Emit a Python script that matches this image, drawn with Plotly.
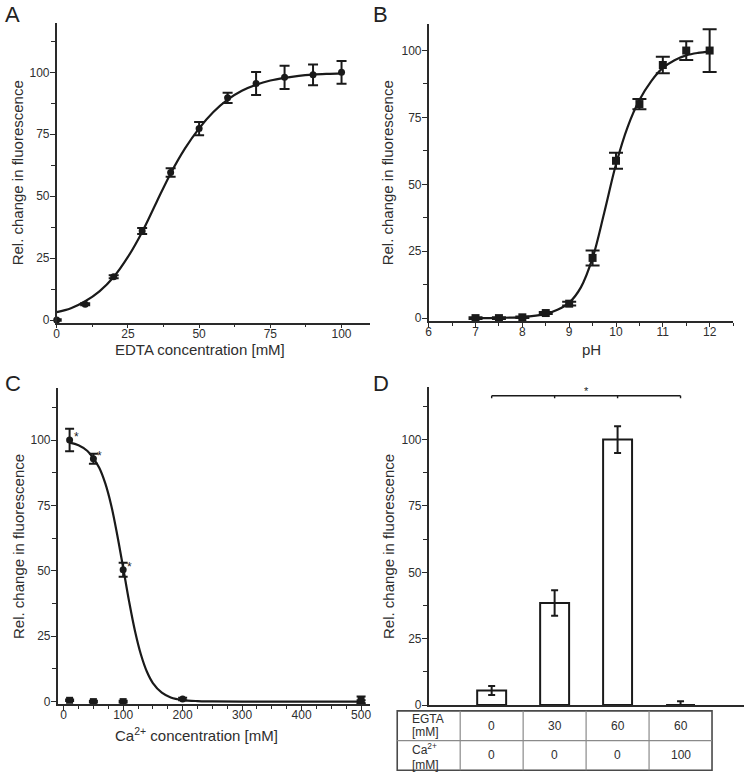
import plotly.graph_objects as go

# ---------------- data ----------------
# Panel A: EDTA titration
edta_conc = [0, 10, 20, 30, 40, 50, 60, 70, 80, 90, 100]
edta_resp = [0, 6.4, 17.5, 36.0, 59.6, 77.3, 89.7, 95.5, 98.0, 99.0, 100.0]
edta_err = [0.3, 0.4, 0.6, 1.2, 1.7, 2.7, 2.1, 4.6, 4.7, 4.2, 4.6]
edta_fit_x = [0, 5, 10, 15, 20, 25, 30, 35, 40, 45, 50, 55, 60, 65, 70, 75, 80, 85, 90, 95, 100]
edta_fit_y = [3.2, 4.8, 7.6, 11.6, 17.4, 25.5, 35.6, 47.5, 59.2, 69.2, 77.4, 84.0, 89.0, 92.6,
              95.0, 96.7, 97.8, 98.6, 99.1, 99.4, 99.6]

# Panel B: pH
ph_vals = [7, 7.5, 8, 8.5, 9, 9.5, 10, 10.5, 11, 11.5, 12]
ph_resp = [0, 0, 0.3, 1.9, 5.4, 22.5, 58.8, 80.0, 94.6, 100.0, 100.0]
ph_err = [0.3, 0.3, 0.3, 0.4, 0.7, 2.8, 3.0, 1.9, 3.1, 3.5, 8.0]
ph_fit_x = [7, 7.5, 8, 8.5, 8.75, 9, 9.25, 9.5, 9.75, 10, 10.25, 10.5, 10.75, 11, 11.25, 11.5, 11.75, 12]
ph_fit_y = [0, 0.1, 0.4, 1.6, 3.1, 5.8, 11.5, 22.5, 39.5, 57.5, 71.5, 81.5, 88.5, 93.5,
            96.4, 98.2, 99.1, 99.6]

# Panel C: Ca2+ concentration
ca_conc = [10, 50, 100, 200, 500]
ca_resp = [100.0, 92.8, 50.4, 1.0, 0.0]
ca_err = [4.3, 1.9, 2.7, 0.5, 0.5]
ca_ctrl_conc = [10, 50, 100, 500]
ca_ctrl_resp = [0.5, 0, 0, 0.5]
ca_ctrl_err = [0.3, 0.3, 0.3, 1.5]
ca_sig_conc = [10, 50, 100]
ca_sig_resp = [100.0, 92.8, 50.4]
ca_fit_x = [10, 25, 40, 50, 60, 70, 80, 90, 100, 110, 120, 130, 140, 150, 165, 180, 200,
            225, 250, 300, 400, 500]
ca_fit_y = [99.0, 98.0, 95.8, 93.0, 89.3, 83.4, 75.0, 63.8, 51.2, 38.3, 26.9, 17.9, 11.4,
            7.1, 3.4, 1.6, 0.6, 0.2, 0.1, 0, 0, 0]

# Panel D: EGTA / Ca2+ bars
bar_pos = [1, 2, 3, 4]
bar_vals = [5.5, 38.5, 100.0, 0.0]
bar_err = [1.7, 4.8, 5.0, 1.5]
egta_row = ["0", "30", "60", "60"]
ca_row = ["0", "0", "0", "100"]
row_labels = [["EGTA", "[mM]"], ["Ca<sup>2+</sup>", "[mM]"]]
sig_from, sig_to, sig_y = 1, 4, 116.5

y_title = "Rel. change in fluorescence"
x_titles = ["EDTA concentration [mM]", "pH", "Ca<sup>2+</sup> concentration [mM]"]
panel_letters = ["A", "B", "C", "D"]

# ---------------- layout geometry ----------------
W, H = 745, 780
def px_x(p):
    return p / W
def px_y(p):
    return 1 - p / H

FONT = "Liberation Sans, Arial, sans-serif"
INK = "#1a1a1a"
AX = "#2a2a2a"
TXT = "#2e2e2e"

fig = go.Figure()

# Panel A
fig.add_trace(go.Scatter(x=edta_fit_x, y=edta_fit_y, mode="lines", line=dict(color=INK, width=2.2, shape="spline"),
                         xaxis="x", yaxis="y", hoverinfo="skip"))
fig.add_trace(go.Scatter(x=edta_conc, y=edta_resp, mode="markers",
                         marker=dict(symbol="circle", size=7, color=INK),
                         error_y=dict(type="data", array=edta_err, color=INK, thickness=2, width=5),
                         xaxis="x", yaxis="y", cliponaxis=False))
# Panel B
fig.add_trace(go.Scatter(x=ph_fit_x, y=ph_fit_y, mode="lines", line=dict(color=INK, width=2.2, shape="spline"),
                         xaxis="x2", yaxis="y2", hoverinfo="skip"))
fig.add_trace(go.Scatter(x=ph_vals, y=ph_resp, mode="markers",
                         marker=dict(symbol="square", size=8, color=INK),
                         error_y=dict(type="data", array=ph_err, color=INK, thickness=2, width=7),
                         xaxis="x2", yaxis="y2", cliponaxis=False))
# Panel C
fig.add_trace(go.Scatter(x=ca_fit_x, y=ca_fit_y, mode="lines", line=dict(color=INK, width=2.2, shape="spline"),
                         xaxis="x3", yaxis="y3", hoverinfo="skip"))
fig.add_trace(go.Scatter(x=ca_conc, y=ca_resp, mode="markers",
                         marker=dict(symbol="circle", size=7, color=INK),
                         error_y=dict(type="data", array=ca_err, color=INK, thickness=2, width=4.5),
                         xaxis="x3", yaxis="y3", cliponaxis=False))
fig.add_trace(go.Scatter(x=ca_ctrl_conc, y=ca_ctrl_resp, mode="markers",
                         marker=dict(symbol="square", size=7, color=INK),
                         error_y=dict(type="data", array=ca_ctrl_err, color=INK, thickness=2, width=4.5),
                         xaxis="x3", yaxis="y3", cliponaxis=False))
# Panel D
fig.add_trace(go.Bar(x=bar_pos, y=bar_vals, width=0.46,
                     marker=dict(color="white", line=dict(color=INK, width=2)),
                     error_y=dict(type="data", array=bar_err, color=INK, thickness=2, width=3.5),
                     xaxis="x4", yaxis="y4"))

tickfont = dict(family=FONT, size=12, color=TXT)
titlefont = dict(family=FONT, size=15, color=TXT)

def yax(domain, rng, anchor):
    return dict(domain=domain, range=rng, anchor=anchor, showgrid=False, zeroline=False,
                showline=True, linecolor=AX, linewidth=1.5, ticks="outside", ticklen=5,
                tickwidth=1.3, tickcolor=AX, tick0=0, dtick=25, tickfont=tickfont,
                ticklabelposition="outside", ticklabelstandoff=-2,
                minor=dict(ticks="outside", ticklen=3.5, tickwidth=1.3, tickcolor=AX, dtick=12.5, tick0=0))

def xax(domain, rng, anchor, dtick, minor, tick0=0):
    return dict(domain=domain, range=rng, anchor=anchor, showgrid=False, zeroline=False,
                showline=True, linecolor=AX, linewidth=1.5, ticks="outside", ticklen=4,
                tickwidth=1.3, tickcolor=AX, tick0=tick0, dtick=dtick, tickfont=tickfont,
                ticklabelposition="outside", ticklabelstandoff=-5,
                minor=dict(ticks="outside", ticklen=3, tickwidth=1.3, tickcolor=AX, dtick=minor, tick0=tick0))

xA = [px_x(54), px_x(369)]
yA = [px_y(325.5), px_y(23)]
xB = [px_x(428), px_x(734)]
yB = [px_y(323.7), px_y(24)]
xC = [px_x(55), px_x(369)]
yC = [px_y(710.6), px_y(391.2)]
xD = [px_x(428), px_x(744.5)]
yD = [px_y(711.5), px_y(390)]
xD_range = [0, 5]

fig.update_layout(
    width=W, height=H, autosize=False,
    margin=dict(l=0, r=0, t=0, b=0),
    paper_bgcolor="white", plot_bgcolor="white",
    showlegend=False,
    font=dict(family=FONT, color=TXT),
    xaxis=xax(xA, [0, 110], "y", 25, 12.5),
    yaxis=yax(yA, [-1, 120], "x"),
    xaxis2=xax(xB, [6, 12.5], "y2", 1, 0.5, tick0=6),
    yaxis2=yax(yB, [-1, 110], "x2"),
    xaxis3=xax(xC, [-10, 515], "y3", 100, 25),
    yaxis3=yax(yC, [-1, 120], "x3"),
    xaxis4=dict(domain=xD, range=xD_range, anchor="y4", showgrid=False, zeroline=False,
                showline=True, linecolor=AX, linewidth=1.5, ticks="", showticklabels=False),
    yaxis4=yax(yD, [0, 120], "x4"),
)

annotations = []
shapes = []

# panel letters
for letter, (lx, ly) in zip(panel_letters, [(0, 0), (370, 0), (0, 372), (370, 372)]):
    annotations.append(dict(text=letter, x=px_x(lx), y=px_y(ly), xref="paper", yref="paper",
                            xanchor="left", yanchor="top", showarrow=False,
                            font=dict(family=FONT, size=22, color="#222")))

# axis titles
for (tx, ty) in [(15, 174), (387, 174), (15, 551), (387, 551)]:
    annotations.append(dict(text=y_title, x=px_x(tx), y=px_y(ty), xref="paper", yref="paper",
                            textangle=-90, xanchor="center", yanchor="middle", showarrow=False,
                            font=titlefont))
for t, (tx, ty) in zip(x_titles, [(198, 352.5), (592, 352.5), (195, 741)]):
    annotations.append(dict(text=t, x=px_x(tx), y=px_y(ty), xref="paper", yref="paper",
                            xanchor="center", yanchor="middle", showarrow=False, font=titlefont))

# asterisks in C
for cx, cy in zip(ca_sig_conc, ca_sig_resp):
    annotations.append(dict(text="*", x=cx, y=cy, xref="x3", yref="y3", xanchor="left", yanchor="middle",
                            xshift=2, yshift=3, showarrow=False, font=dict(family=FONT, size=12, color=INK)))

# significance bracket in D
shapes.append(dict(type="line", xref="x4", yref="y4", x0=sig_from, x1=sig_to, y0=sig_y, y1=sig_y,
                   line=dict(color=INK, width=1.6)))
for p in range(sig_from, sig_to + 1):
    shapes.append(dict(type="line", xref="x4", yref="y4", x0=p, x1=p, y0=sig_y, y1=sig_y - 0.9,
                       line=dict(color=INK, width=1.4)))
annotations.append(dict(text="*", x=(sig_from + sig_to) / 2, y=sig_y, xref="x4", yref="y4",
                        yanchor="bottom", showarrow=False, yshift=-3,
                        font=dict(family=FONT, size=11, color=INK)))

# table under D
def dx(v):
    return xD[0] + (v - xD_range[0]) / (xD_range[1] - xD_range[0]) * (xD[1] - xD[0])

n_cols = len(bar_pos) + 1
col_edges = [dx(c - 0.5) for c in range(0, n_cols + 1)]
row_px = [717.3, 747.3, 777.3]
row_edges = [px_y(p) for p in row_px]
tbl_outer = "#4a4a4a"
tbl_inner = "#8a8a8a"
shapes.append(dict(type="rect", xref="paper", yref="paper", x0=col_edges[0], x1=col_edges[-1],
                   y0=row_edges[2], y1=row_edges[0], line=dict(color=tbl_outer, width=1.6)))
shapes.append(dict(type="line", xref="paper", yref="paper", x0=col_edges[0], x1=col_edges[-1],
                   y0=row_edges[1], y1=row_edges[1], line=dict(color=tbl_inner, width=1.2)))
for ce in col_edges[1:-1]:
    shapes.append(dict(type="line", xref="paper", yref="paper", x0=ce, x1=ce,
                       y0=row_edges[2], y1=row_edges[0], line=dict(color=tbl_inner, width=1.2)))

tfont = dict(family=FONT, size=12, color=TXT)
label_offsets = [(8.2, 21.7), (8.5, 24.7)]
for r, (lab, vals) in enumerate(zip(row_labels, [egta_row, ca_row])):
    top, bot = row_px[r], row_px[r + 1]
    yc = px_y((top + bot) / 2)
    o1, o2 = label_offsets[r]
    # two-line row header, left aligned in first column
    annotations.append(dict(text=lab[0], x=px_x(409), y=px_y(top + o1), xref="paper", yref="paper",
                            xanchor="left", yanchor="middle", showarrow=False, font=tfont))
    annotations.append(dict(text=lab[1], x=px_x(409), y=px_y(top + o2), xref="paper", yref="paper",
                            xanchor="left", yanchor="middle", showarrow=False, font=tfont))
    for p, v in zip(bar_pos, vals):
        annotations.append(dict(text=v, x=dx(p), y=yc, xref="paper", yref="paper",
                                xanchor="center", yanchor="middle", showarrow=False, font=tfont))

fig.update_layout(annotations=annotations, shapes=shapes)

fig.write_html("out.html", config={"displayModeBar": False},
               post_script="document.body.style.margin='0';document.body.style.padding='0';")
